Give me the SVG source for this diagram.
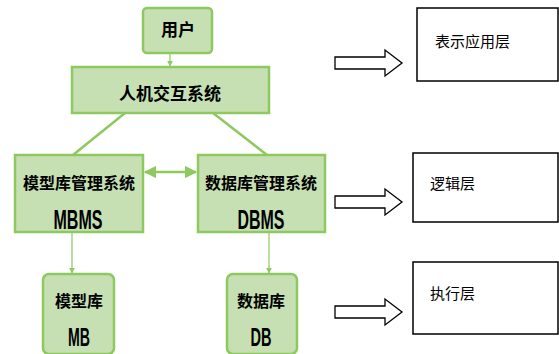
<svg xmlns="http://www.w3.org/2000/svg" width="559" height="354" viewBox="0 0 559 354">
<defs>
<style>
.g{fill:#c6e0b4;stroke:#8dc95f;stroke-width:2.5}
.ln{stroke:#8dc95f;stroke-width:2.5;fill:none}
.tn{stroke:#8dc95f;stroke-width:1.2;fill:none}
.cn{font-family:"Noto Sans CJK SC","Noto Sans",sans-serif;font-weight:bold;fill:#000;text-anchor:middle}
.en{font-family:"Liberation Sans",Arial,sans-serif;fill:#000;text-anchor:middle}
.lb{fill:#fff;stroke:#000;stroke-width:1.5}
.lt{font-family:"Noto Sans CJK SC",sans-serif;font-size:15px;fill:#000}
.ar{fill:#fff;stroke:#000;stroke-width:1.3}
</style>
<marker id="ah" viewBox="0 0 10 10" refX="9" refY="5" markerWidth="5" markerHeight="5" orient="auto-start-reverse"><path d="M0,0 L10,5 L0,10 z" fill="#8dc95f"/></marker>
</defs>
<rect width="559" height="354" fill="#fff"/>
<g id="connectors">
<line class="tn" x1="170" y1="42" x2="170" y2="66" marker-end="url(#ah)"/>
<line class="ln" x1="125" y1="113" x2="73" y2="155"/>
<line class="ln" x1="213" y1="113" x2="267" y2="155"/>
<line class="ln" x1="145" y1="172" x2="196" y2="172" marker-start="url(#ah)" marker-end="url(#ah)"/>
<line class="tn" x1="72" y1="232" x2="72" y2="273" marker-end="url(#ah)"/>
<line class="tn" x1="269" y1="232" x2="269" y2="273" marker-end="url(#ah)"/>
</g>
<g id="user">
<rect class="g" x="143" y="8" width="69" height="45" rx="4"/>
<text class="cn" x="178" y="36" font-size="17">用户</text>
</g>
<g id="hci">
<rect class="g" x="72" y="67" width="197" height="46"/>
<text class="cn" x="170" y="100" font-size="17">人机交互系统</text>
</g>
<g id="mbms">
<rect class="g" x="15" y="155" width="128" height="77"/>
<text class="cn" x="79" y="189" font-size="16">模型库管理系统</text>
<text class="en" x="78" y="229" font-size="28" font-weight="bold" textLength="49" lengthAdjust="spacingAndGlyphs">MBMS</text>
</g>
<g id="dbms">
<rect class="g" x="198" y="155" width="127" height="77"/>
<text class="cn" x="261" y="189" font-size="16">数据库管理系统</text>
<text class="en" x="261" y="229" font-size="28" font-weight="bold" textLength="47" lengthAdjust="spacingAndGlyphs">DBMS</text>
</g>
<g id="mb">
<rect class="g" x="43" y="274" width="71" height="80" rx="6"/>
<text class="cn" x="79" y="307" font-size="16">模型库</text>
<text class="en" x="79" y="346" font-size="25" font-weight="bold" textLength="22" lengthAdjust="spacingAndGlyphs">MB</text>
</g>
<g id="db">
<rect class="g" x="227" y="274" width="70" height="80" rx="6"/>
<text class="cn" x="261" y="307" font-size="16">数据库</text>
<text class="en" x="261" y="346" font-size="25" font-weight="bold" textLength="21" lengthAdjust="spacingAndGlyphs">DB</text>
</g>
<g id="layer1">
<path class="ar" d="M335,57 H385 V50 L402,63 L385,76 V69 H335 Z"/>
<rect class="lb" x="417" y="8" width="141" height="73"/>
<text class="lt" x="435" y="47">表示应用层</text>
</g>
<g id="layer2">
<path class="ar" d="M335,196 H385 V189 L402,202 L385,215 V208 H335 Z"/>
<rect class="lb" x="413" y="153" width="145" height="69"/>
<text class="lt" x="430" y="189">逻辑层</text>
</g>
<g id="layer3">
<path class="ar" d="M335,306 H385 V299 L402,312 L385,325 V318 H335 Z"/>
<rect class="lb" x="413" y="262" width="145" height="72"/>
<text class="lt" x="430" y="299">执行层</text>
</g>
</svg>
